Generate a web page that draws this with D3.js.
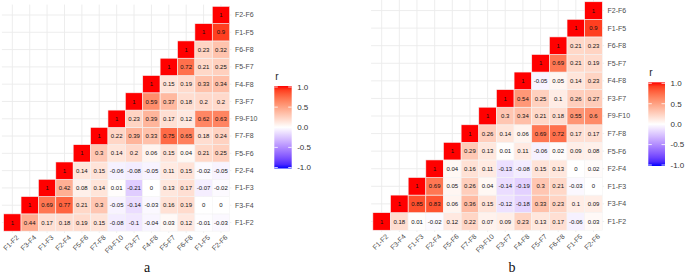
<!DOCTYPE html>
<html>
<head>
<meta charset="utf-8">
<script src="https://cdn.jsdelivr.net/npm/d3@7"></script>
<style>
  body { margin: 0; background: #fff; }
  svg { display: block; font-family: "Liberation Sans", Arial, sans-serif; }
</style>
</head>
<body>
<svg width="685" height="279"></svg>
<script>
// variable pairs, same order on both axes (x left->right, y bottom->top)
const vars = ['F1-F2', 'F3-F4', 'F1-F3', 'F2-F4', 'F5-F6', 'F7-F8', 'F9-F10',
  'F3-F7', 'F4-F8', 'F5-F7', 'F6-F8', 'F1-F5', 'F2-F6']

// each row j holds the correlations for columns j..12
const rowsA = [
  [1, 0.44, 0.17, 0.18, 0.19, 0.15, -0.08, -0.1, -0.04, 0.03, 0.12, -0.01, -0.03],
  [1, 0.69, 0.77, 0.21, 0.3, -0.05, -0.14, -0.03, 0.16, 0.19, 0, 0],
  [1, 0.42, 0.08, 0.14, 0.01, -0.21, 0, 0.13, 0.17, -0.07, -0.02],
  [1, 0.14, 0.15, -0.06, -0.08, -0.05, 0.11, 0.15, -0.02, -0.05],
  [1, 0.3, 0.14, 0.2, 0.06, 0.15, 0.04, 0.21, 0.25],
  [1, 0.22, 0.39, 0.33, 0.75, 0.65, 0.18, 0.24],
  [1, 0.23, 0.39, 0.17, 0.12, 0.62, 0.63],
  [1, 0.59, 0.37, 0.18, 0.2, 0.2],
  [1, 0.15, 0.19, 0.33, 0.34],
  [1, 0.72, 0.21, 0.25],
  [1, 0.23, 0.32],
  [1, 0.9],
  [1]
]

const rowsB = [
  [1, 0.18, 0.01, -0.02, 0.12, 0.22, 0.07, 0.09, 0.23, 0.13, 0.17, -0.06, 0.03],
  [1, 0.85, 0.83, 0.06, 0.36, 0.15, -0.12, -0.18, 0.33, 0.23, 0.1, 0.09],
  [1, 0.69, 0.05, 0.26, 0.04, -0.14, -0.19, 0.3, 0.21, -0.03, 0],
  [1, 0.04, 0.16, 0.11, -0.13, -0.08, 0.15, 0.13, 0, 0.02],
  [1, 0.29, 0.13, 0.01, 0.11, -0.06, 0.02, 0.09, 0.08],
  [1, 0.26, 0.14, 0.06, 0.69, 0.72, 0.17, 0.17],
  [1, 0.3, 0.34, 0.21, 0.18, 0.55, 0.6],
  [1, 0.54, 0.25, 0.1, 0.26, 0.27],
  [1, -0.05, 0.05, 0.14, 0.23],
  [1, 0.69, 0.21, 0.19],
  [1, 0.21, 0.23],
  [1, 0.9],
  [1]
]

const legendTicks = [1, 0.5, 0, -0.5, -1]

// blue - white - red, like scale_fill_gradient2
const color = d3.scaleLinear()
  .domain([-1, 0, 1])
  .range(['blue', 'white', 'red'])
  .interpolate(d3.interpolateLab)

const svg = d3.select('svg')

// gradient for the colour bar
const grad = svg.append('defs').append('linearGradient')
  .attr('id', 'rgrad')
  .attr('x1', 0).attr('y1', 0).attr('x2', 0).attr('y2', 1)
grad.selectAll('stop')
  .data(d3.range(0, 1.0001, 0.05))
  .enter().append('stop')
  .attr('offset', d => d)
  .attr('stop-color', d => color(1 - 2 * d))

const fmt = v => String(v)

function drawPanel(rows, p) {
  const g = svg.append('g')

  const x = d3.scaleBand().domain(vars)
    .range([p.left, p.right]).paddingInner(0).paddingOuter(0.1)
  const y = d3.scaleBand().domain(vars)
    .range([p.bottom, p.top]).paddingInner(0).paddingOuter(0.1)
  const bw = x.bandwidth(), bh = y.bandwidth()

  // grid lines through category centres
  g.append('g').selectAll('line.v')
    .data(vars).enter().append('line')
    .attr('x1', d => x(d) + bw / 2).attr('x2', d => x(d) + bw / 2)
    .attr('y1', p.top).attr('y2', p.bottom)
    .attr('stroke', '#ebebeb').attr('stroke-width', 0.9)
  g.append('g').selectAll('line.h')
    .data(vars).enter().append('line')
    .attr('y1', d => y(d) + bh / 2).attr('y2', d => y(d) + bh / 2)
    .attr('x1', p.left).attr('x2', p.right)
    .attr('stroke', '#ebebeb').attr('stroke-width', 0.9)

  const cells = []
  rows.forEach((row, j) => {
    row.forEach((v, k) => {
      cells.push({ col: vars[j + k], row: vars[j], v: v })
    })
  })

  g.append('g').selectAll('rect')
    .data(cells).enter().append('rect')
    .attr('x', d => x(d.col)).attr('y', d => y(d.row))
    .attr('width', bw).attr('height', bh)
    .attr('fill', d => color(d.v))
    .attr('stroke', '#f4f4f4').attr('stroke-width', 0.6)

  g.append('g').selectAll('text')
    .data(cells).enter().append('text')
    .attr('x', d => x(d.col) + bw / 2)
    .attr('y', d => y(d.row) + bh / 2)
    .attr('dy', '0.35em')
    .attr('text-anchor', 'middle')
    .attr('font-size', 6)
    .attr('fill', '#111')
    .text(d => fmt(d.v))

  // y labels on the right
  g.append('g').selectAll('text')
    .data(vars).enter().append('text')
    .attr('x', p.right + 3.5)
    .attr('y', d => y(d) + bh / 2)
    .attr('dy', '0.35em')
    .attr('font-size', 7)
    .attr('fill', '#4d4d4d')
    .text(d => d)

  // x labels rotated 45 degrees
  g.append('g').selectAll('text')
    .data(vars).enter().append('text')
    .attr('transform', d => `translate(${x(d) + bw / 2 + 7},${p.bottom + 5}) rotate(-45)`)
    .attr('text-anchor', 'end')
    .attr('font-size', 7)
    .attr('fill', '#4d4d4d')
    .text(d => d)

  // colour bar legend
  const ly = d3.scaleLinear().domain([1, -1]).range([p.barTop + 1, p.barBottom - 1])
  g.append('text')
    .attr('x', p.barX + 1).attr('y', p.barTop - 6.5)
    .attr('font-size', 10).attr('fill', '#222')
    .text('r')
  g.append('rect')
    .attr('x', p.barX).attr('y', p.barTop)
    .attr('width', p.barW).attr('height', p.barBottom - p.barTop)
    .attr('fill', 'url(#rgrad)')
  const tk = g.append('g').selectAll('g')
    .data(legendTicks).enter().append('g')
  tk.append('line')
    .attr('x1', p.barX).attr('x2', p.barX + 3.5)
    .attr('y1', d => ly(d)).attr('y2', d => ly(d))
    .attr('stroke', 'white').attr('stroke-width', 0.8)
  tk.append('line')
    .attr('x1', p.barX + p.barW - 3.5).attr('x2', p.barX + p.barW)
    .attr('y1', d => ly(d)).attr('y2', d => ly(d))
    .attr('stroke', 'white').attr('stroke-width', 0.8)
  tk.append('text')
    .attr('x', p.barX + p.barW + 5.5)
    .attr('y', d => ly(d))
    .attr('dy', '0.35em')
    .attr('font-size', 8)
    .attr('fill', '#333')
    .text(d => d3.format('.1f')(d).replace('\u2212', '-'))

  svg.append('text')
    .attr('x', p.captionX).attr('y', 272)
    .attr('text-anchor', 'middle')
    .attr('font-family', '"Liberation Serif", "DejaVu Serif", serif')
    .attr('font-size', 14)
    .attr('fill', '#111')
    .text(p.caption)
}

drawPanel(rowsA, {
  left: 1.9, right: 231.4, top: 4.6, bottom: 232.9,
  barX: 274.3, barW: 17.4, barTop: 86, barBottom: 168.5,
  captionX: 147, caption: 'a'
})

drawPanel(rowsB, {
  left: 371.1, right: 604.1, top: 0, bottom: 232,
  barX: 648.3, barW: 16.7, barTop: 82.3, barBottom: 166,
  captionX: 512, caption: 'b'
})
</script>
</body>
</html>
